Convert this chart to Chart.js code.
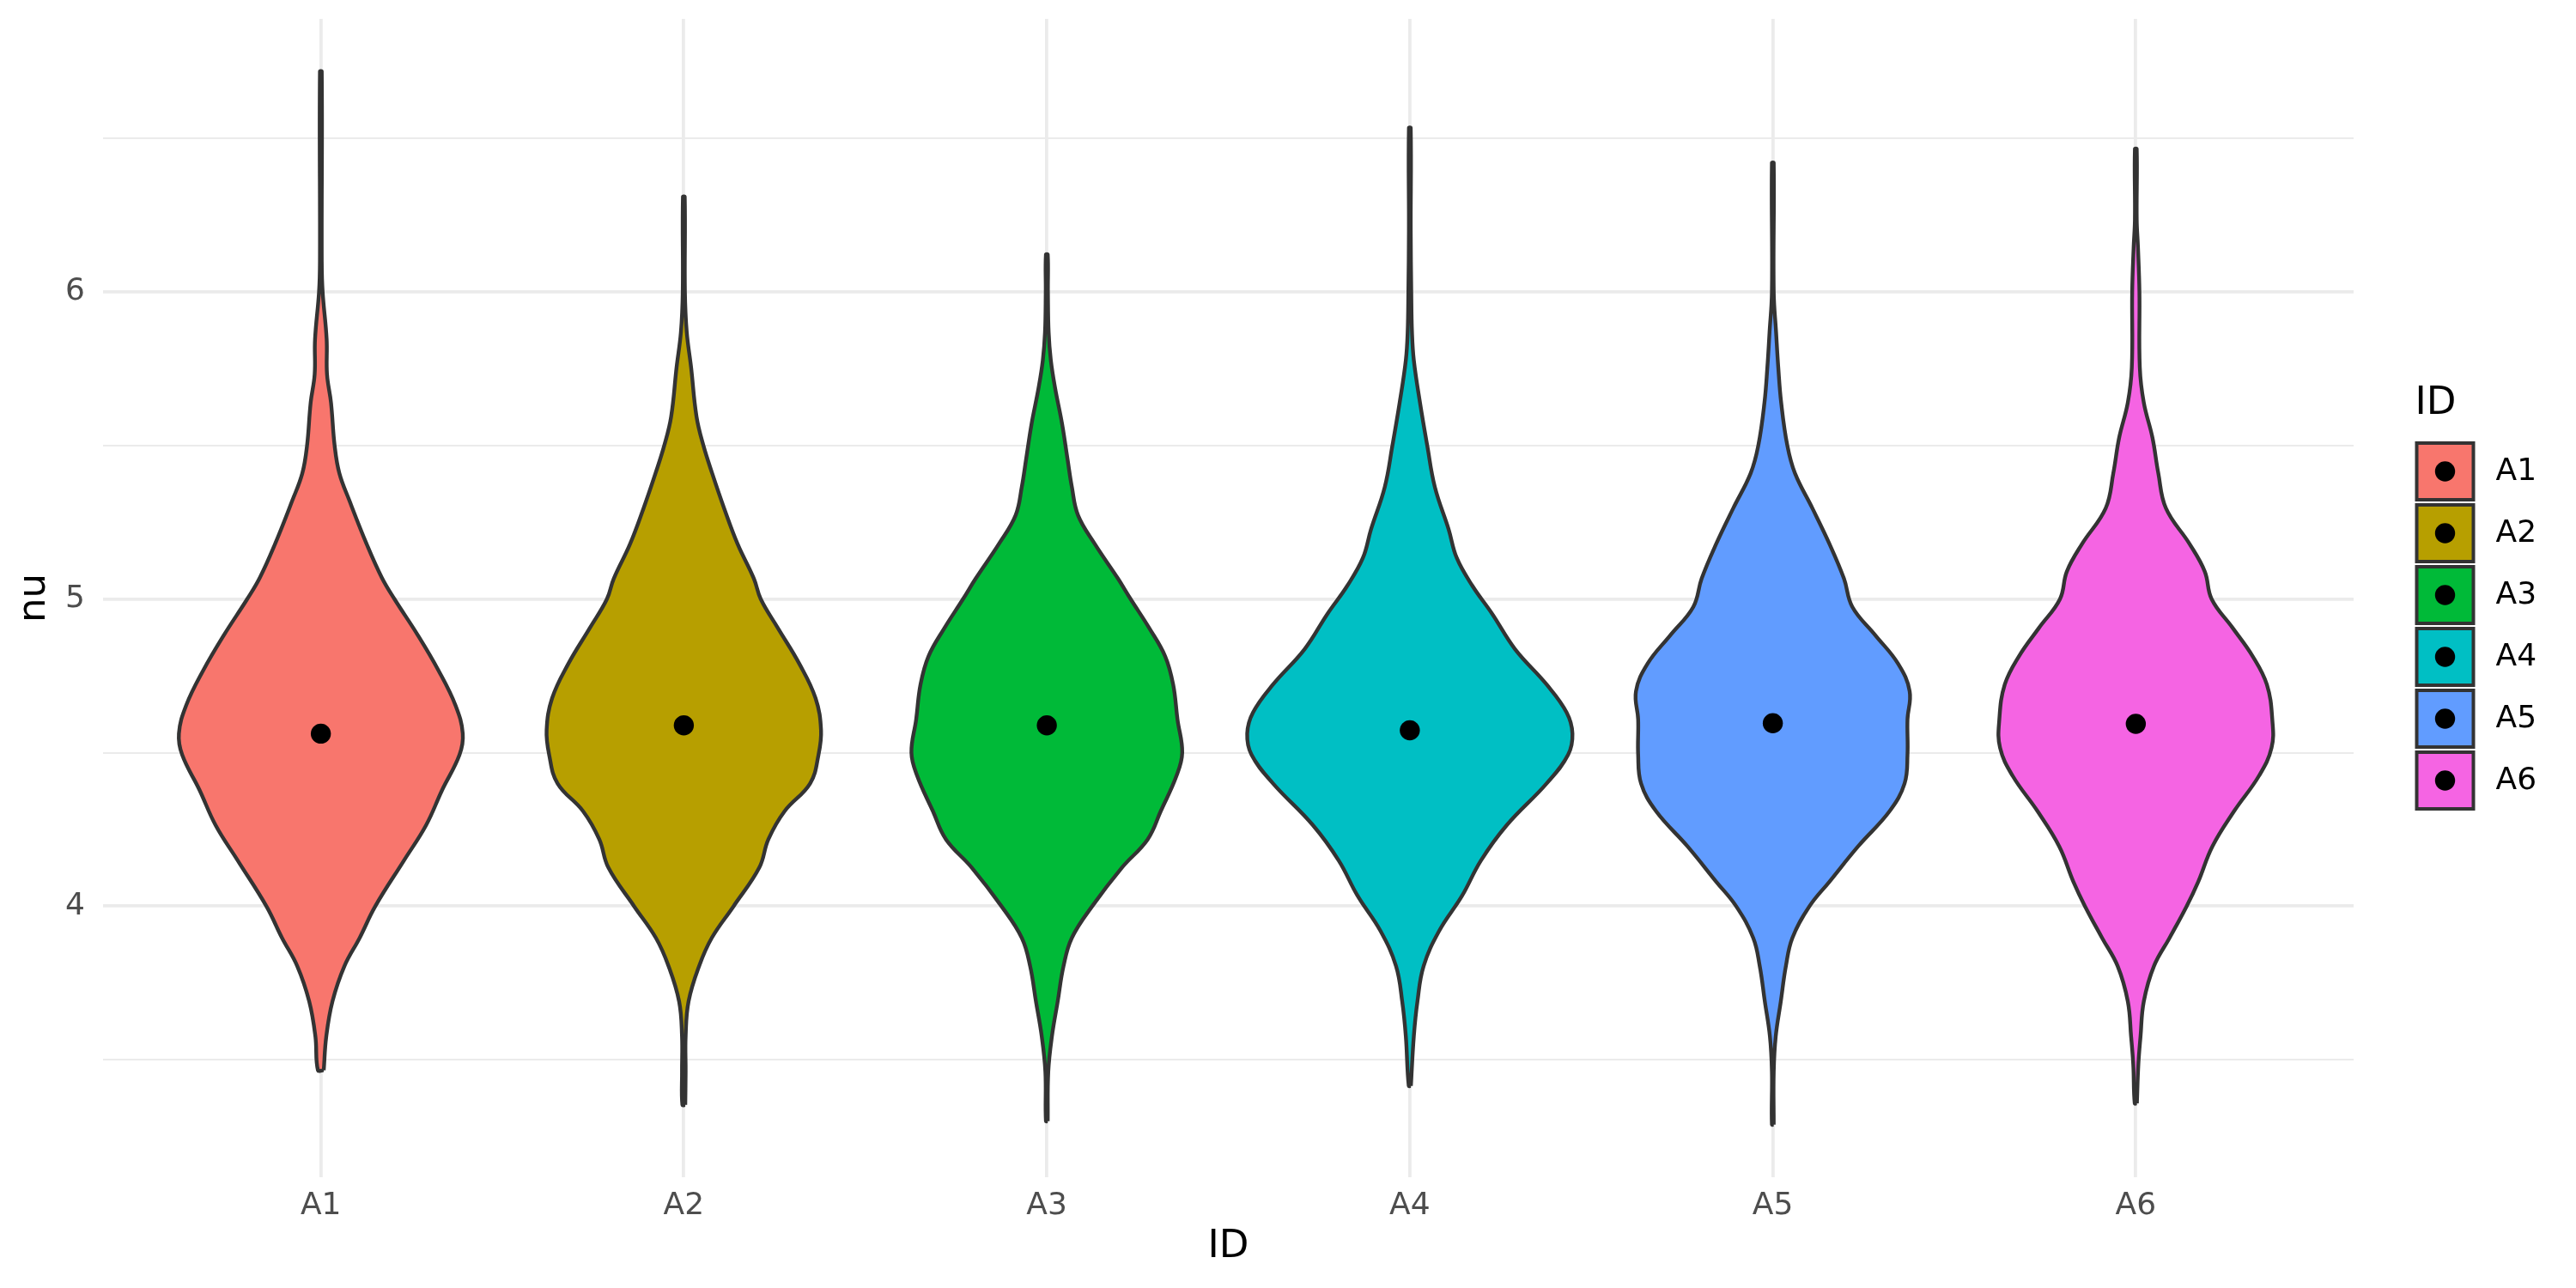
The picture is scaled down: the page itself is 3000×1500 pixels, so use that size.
<!DOCTYPE html>
<html>
<head>
<meta charset="utf-8">
<script src="https://cdn.jsdelivr.net/npm/chart.js@4.4.1/dist/chart.umd.min.js"></script>
<style>
  html, body { margin: 0; padding: 0; background: #ffffff; }
  canvas { display: block; }
</style>
</head>
<body>
<canvas id="c" width="3000" height="1500"></canvas>
<script>
// ---------- data ----------
const categories = ['A1', 'A2', 'A3', 'A4', 'A5', 'A6'];
const fillColors = ['#F8766D', '#B79F00', '#00BA38', '#00BFC4', '#619CFF', '#F564E3'];
const means = [4.562, 4.589, 4.589, 4.573, 4.596, 4.594];

// violin outlines: nu levels (bottom -> top) and half-widths (in category units)
const nuA1   = [3.466, 3.576, 3.69, 3.805, 3.897, 4.0, 4.149, 4.264, 4.378, 4.493, 4.562, 4.654, 4.768, 4.883, 5.0, 5.07, 5.18, 5.32, 5.41, 5.5, 5.64, 5.732, 5.846, 6.0, 6.099, 6.718];
const halfA1 = [0.008, 0.015, 0.032, 0.065, 0.107, 0.150, 0.229, 0.290, 0.334, 0.382, 0.391, 0.371, 0.324, 0.267, 0.203, 0.168, 0.126, 0.079, 0.051, 0.038, 0.028, 0.017, 0.016, 0.005, 0.0025, 0.0025];

const nuA2   = [3.353, 3.461, 3.576, 3.69, 3.805, 3.897, 4.0, 4.126, 4.218, 4.31, 4.40, 4.493, 4.573, 4.677, 4.79, 4.906, 5.0, 5.067, 5.18, 5.296, 5.41, 5.5, 5.594, 5.755, 5.87, 6.0, 6.31];
const halfA2 = [0.004, 0.005, 0.005, 0.013, 0.042, 0.077, 0.137, 0.208, 0.233, 0.278, 0.348, 0.371, 0.378, 0.363, 0.318, 0.259, 0.212, 0.193, 0.148, 0.111, 0.078, 0.054, 0.035, 0.020, 0.008, 0.003, 0.0025];

const nuA3   = [3.30, 3.461, 3.576, 3.69, 3.805, 3.897, 4.0, 4.126, 4.218, 4.31, 4.424, 4.5, 4.608, 4.722, 4.814, 4.906, 5.0, 5.067, 5.18, 5.273, 5.365, 5.456, 5.571, 5.686, 5.778, 5.869, 6.0, 6.122];
const halfA3 = [0.0025, 0.004, 0.014, 0.030, 0.046, 0.069, 0.125, 0.207, 0.278, 0.314, 0.357, 0.373, 0.360, 0.348, 0.326, 0.282, 0.231, 0.196, 0.132, 0.086, 0.069, 0.057, 0.042, 0.023, 0.011, 0.005, 0.003, 0.0025];

const nuA4   = [3.415, 3.576, 3.69, 3.805, 3.92, 4.034, 4.149, 4.264, 4.40, 4.493, 4.562, 4.631, 4.722, 4.837, 4.952, 5.044, 5.135, 5.227, 5.365, 5.5, 5.64, 5.778, 5.869, 6.0, 6.2, 6.534];
const halfA4 = [0.003, 0.011, 0.021, 0.038, 0.081, 0.144, 0.196, 0.267, 0.377, 0.436, 0.448, 0.432, 0.377, 0.290, 0.227, 0.172, 0.129, 0.107, 0.069, 0.048, 0.028, 0.011, 0.006, 0.004, 0.0025, 0.0025];

const nuA5   = [3.289, 3.461, 3.576, 3.69, 3.805, 3.897, 4.0, 4.08, 4.195, 4.31, 4.40, 4.493, 4.608, 4.70, 4.79, 4.883, 4.975, 5.067, 5.18, 5.296, 5.41, 5.5, 5.64, 5.755, 5.869, 6.0, 6.42];
const halfA5 = [0.0025, 0.0025, 0.008, 0.022, 0.036, 0.054, 0.101, 0.156, 0.235, 0.322, 0.363, 0.371, 0.371, 0.377, 0.345, 0.282, 0.219, 0.196, 0.156, 0.109, 0.061, 0.040, 0.023, 0.015, 0.009, 0.0025, 0.0025];

const nuA6   = [3.358, 3.484, 3.576, 3.69, 3.805, 3.897, 4.0, 4.08, 4.195, 4.31, 4.424, 4.516, 4.608, 4.722, 4.814, 4.906, 5.0, 5.09, 5.18, 5.296, 5.41, 5.525, 5.64, 5.755, 6.0, 6.145, 6.236, 6.466];
const halfA6 = [0.003, 0.007, 0.013, 0.022, 0.050, 0.093, 0.140, 0.172, 0.211, 0.271, 0.339, 0.374, 0.376, 0.361, 0.322, 0.267, 0.209, 0.190, 0.148, 0.083, 0.062, 0.046, 0.022, 0.011, 0.010, 0.006, 0.0025, 0.0025];

const yMajorTicks = [4, 5, 6];
const yMinorTicks = [3.5, 4.5, 5.5, 6.5];
const xTitle = 'ID';
const yTitle = 'nu';
const legendTitle = 'ID';

// ---------- build ----------
const violins = [[nuA1, halfA1], [nuA2, halfA2], [nuA3, halfA3], [nuA4, halfA4], [nuA5, halfA5], [nuA6, halfA6]];

function outline(k) {
  const [nu, half] = violins[k];
  const c = k + 1;
  const right = nu.map((v, j) => ({ x: c + half[j], y: v }));
  const left = nu.map((v, j) => ({ x: c - half[j], y: v })).reverse();
  return right.concat(left, [right[0]]);
}

const allNu = violins.flatMap(v => v[0]);
const nuLo = Math.min(...allNu), nuHi = Math.max(...allNu);
const nuPad = 0.05 * (nuHi - nuLo);

const datasets = [{
  label: 'mean',
  data: means.map((m, i) => ({ x: i + 1, y: m })),
  showLine: false,
  pointRadius: 11.7,
  pointHoverRadius: 11.7,
  pointBackgroundColor: '#000000',
  pointBorderWidth: 0,
  order: 0
}];
categories.forEach((cat, k) => {
  datasets.push({
    label: cat,
    data: outline(k),
    showLine: true,
    fill: 'shape',
    backgroundColor: fillColors[k],
    borderColor: '#333333',
    borderWidth: 4.4,
    borderJoinStyle: 'round',
    pointRadius: 0,
    pointHoverRadius: 0,
    tension: 0.4,
    order: 1
  });
});

const legendPlugin = {
  id: 'idLegend',
  afterDraw(chart) {
    const ctx = chart.ctx;
    const x0 = chart.chartArea.right + 71.5;
    ctx.save();
    ctx.textBaseline = 'middle';
    ctx.textAlign = 'left';
    ctx.fillStyle = '#000000';
    ctx.font = '45px "DejaVu Sans"';
    ctx.fillText(legendTitle, x0, 470.8);
    categories.forEach((cat, i) => {
      const top = 514 + i * 72;
      ctx.fillStyle = fillColors[i];
      ctx.fillRect(x0 + 2, top + 2, 66, 66);
      ctx.strokeStyle = '#333333';
      ctx.lineWidth = 4;
      ctx.strokeRect(x0 + 2, top + 2, 66, 66);
      ctx.fillStyle = '#000000';
      ctx.beginPath();
      ctx.arc(x0 + 35, top + 35, 11.7, 0, Math.PI * 2);
      ctx.fill();
      ctx.font = '36px "DejaVu Sans"';
      ctx.fillText(cat, x0 + 94, top + 36);
    });
    ctx.restore();
  }
};

Chart.defaults.font.family = '"DejaVu Sans", sans-serif';

new Chart(document.getElementById('c'), {
  type: 'scatter',
  data: { datasets },
  options: {
    responsive: false,
    animation: false,
    devicePixelRatio: 1,
    layout: { padding: { left: 0, top: 22, right: 259, bottom: 0 } },
    plugins: {
      legend: { display: false },
      tooltip: { enabled: false }
    },
    scales: {
      x: {
        type: 'linear',
        min: 1 - 0.6,
        max: categories.length + 0.6,
        afterBuildTicks: s => { s.ticks = categories.map((c, i) => ({ value: i + 1 })); },
        afterFit: s => { s.height = 129; s.paddingLeft = 0; s.paddingRight = 0; },
        ticks: {
          callback: v => categories[Math.round(v) - 1] ?? '',
          color: '#4D4D4D',
          font: { size: 36 },
          padding: 12,
          autoSkip: false,
          maxRotation: 0
        },
        grid: { color: '#EBEBEB', lineWidth: 3.8, drawTicks: false },
        border: { display: false },
        title: { display: true, text: xTitle, color: '#000000', font: { size: 45 }, padding: { top: 0, bottom: 21 } }
      },
      y: {
        type: 'linear',
        min: nuLo - nuPad,
        max: nuHi + nuPad,
        afterBuildTicks: s => {
          s.ticks = yMinorTicks.concat(yMajorTicks).sort((a, b) => a - b).map(v => ({ value: v }));
        },
        afterFit: s => { s.width = 120; s.paddingTop = 0; s.paddingBottom = 0; },
        ticks: {
          callback: v => (yMajorTicks.includes(v) ? String(v) : ''),
          color: '#4D4D4D',
          font: { size: 36 },
          padding: 21,
          autoSkip: false
        },
        grid: {
          color: '#EBEBEB',
          lineWidth: c => (c.tick && yMajorTicks.includes(c.tick.value) ? 3.8 : 2),
          drawTicks: false
        },
        border: { display: false },
        title: { display: true, text: yTitle, color: '#000000', font: { size: 45 }, padding: { top: 13, bottom: 0 } }
      }
    }
  },
  plugins: [legendPlugin]
});
</script>
</body>
</html>
